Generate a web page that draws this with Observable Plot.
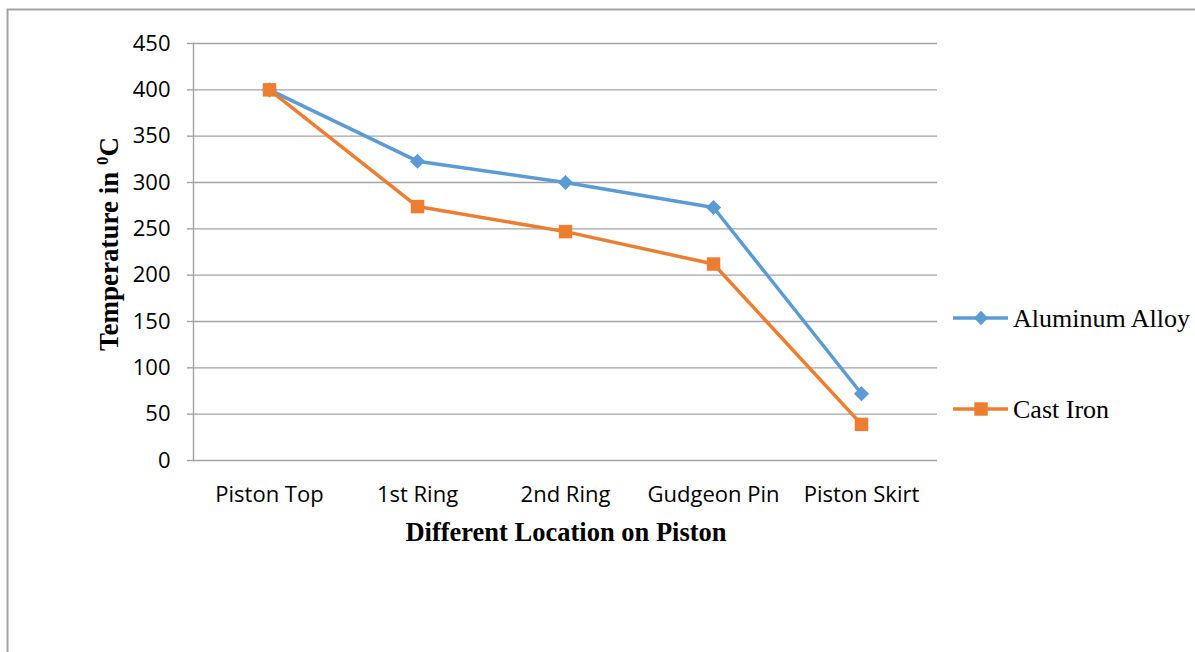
<!DOCTYPE html>
<html><head><meta charset="utf-8">
<script src="https://cdn.jsdelivr.net/npm/d3@7"></script>
<script src="https://cdn.jsdelivr.net/npm/@observablehq/plot@0.6"></script>
<style>html,body{margin:0;padding:0;background:#fff;overflow:hidden} svg{display:block}</style>
</head><body><div id="chart"></div>
<script>
const locations = ["Piston Top", "1st Ring", "2nd Ring", "Gudgeon Pin", "Piston Skirt"];
const aluminumAlloy = [400, 323, 300, 273, 72];
const castIron = [400, 274, 247, 212, 39];
const yTicks = [0, 50, 100, 150, 200, 250, 300, 350, 400, 450];
const seriesNames = ["Aluminum Alloy", "Cast Iron"];
const seriesColors = ["#5b9bd5", "#ed7d31"];
const seriesSymbols = ["diamond2", "square"];
const xTitle = "Different Location on Piston";
const yTitle = "Temperature in ";

const data = [
  ...locations.map((loc, i) => ({loc, v: aluminumAlloy[i], s: seriesNames[0]})),
  ...locations.map((loc, i) => ({loc, v: castIron[i], s: seriesNames[1]}))
];
const gray = "#a3a3a3";

const marks = [
  Plot.gridY(yTicks, {stroke: gray, strokeOpacity: 1, strokeWidth: 1.4}),
  Plot.axisY(yTicks, {tickSize: 6, tickPadding: 17, stroke: gray, strokeOpacity: 1, strokeWidth: 1.4, fill: "#000", fontSize: 22, label: null}),
  Plot.axisX({tickSize: 0, tickPadding: 26, fill: "#000", fontSize: 22, label: null}),
  Plot.frame({anchor: "left", stroke: gray, strokeWidth: 1.4})
];
seriesNames.forEach((name, k) => {
  const d = data.filter(r => r.s === name);
  marks.push(Plot.line(d, {x: "loc", y: "v", stroke: seriesColors[k], strokeWidth: 3.5}));
  marks.push(Plot.dot(d, {x: "loc", y: "v", fill: seriesColors[k], stroke: "none", symbol: seriesSymbols[k], r: k === 0 ? 6.8 : 7.6}));
});

const plot = Plot.plot({
  width: 1195, height: 652,
  marginLeft: 193, marginRight: 258, marginTop: 43, marginBottom: 192,
  style: {fontFamily: "'Open Sans', sans-serif", fontSize: "22px", background: "white", color: "#000"},
  x: {type: "point", domain: locations, padding: 0.5, label: null},
  y: {domain: [0, 450], label: null},
  marks
});
document.getElementById("chart").appendChild(plot);

const svg = d3.select(plot);
// outer border
svg.insert("rect", ":first-child").attr("x", 7.5).attr("y", 9.5).attr("width", 1300).attr("height", 800)
  .attr("fill", "none").attr("stroke", gray).attr("stroke-width", 2);

// axis titles
svg.append("text").attr("x", 566).attr("y", 541).attr("text-anchor", "middle")
  .attr("font-family", "'Liberation Serif', serif").attr("font-weight", "bold").attr("font-size", 26.5)
  .attr("fill", "#000").text(xTitle);
const yt = svg.append("text").attr("transform", "translate(118,244) rotate(-90)").attr("text-anchor", "middle")
  .attr("font-family", "'Liberation Serif', serif").attr("font-weight", "bold").attr("font-size", 27).attr("fill", "#000");
yt.append("tspan").text(yTitle);
yt.append("tspan").attr("font-size", 17).attr("dy", -10).text("0");
yt.append("tspan").attr("dy", 10).text("C");

// legend
const legendY = [318, 409];
seriesNames.forEach((name, k) => {
  const g = svg.append("g");
  g.append("line").attr("x1", 953).attr("x2", 1008).attr("y1", legendY[k]).attr("y2", legendY[k])
    .attr("stroke", seriesColors[k]).attr("stroke-width", 3.5);
  g.append("path").attr("transform", `translate(981,${legendY[k]})`)
    .attr("d", d3.symbol(k === 0 ? d3.symbolDiamond2 : d3.symbolSquare, k === 0 ? 130 : 180)())
    .attr("fill", seriesColors[k]);
  g.append("text").attr("x", 1013).attr("y", legendY[k] + 9).attr("text-anchor", "start")
    .attr("font-family", "'Liberation Serif', serif").attr("font-size", 26).attr("fill", "#000").text(name);
});
</script>
</body></html>
